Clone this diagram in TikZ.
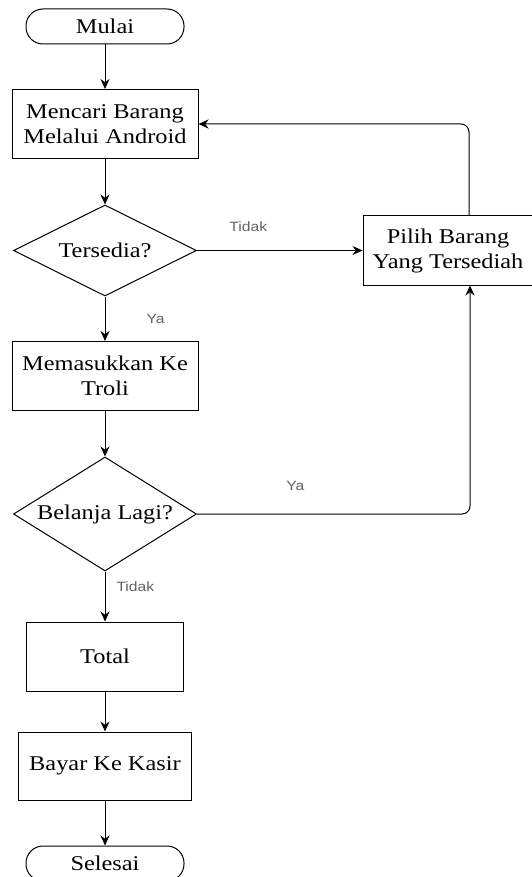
\documentclass[tikz,border=0pt]{standalone}
\usepackage{fontspec}
\setmainfont[FakeStretch=1.16]{Liberation Serif}
\newfontfamily\lblfont[FakeStretch=1.16]{Liberation Sans}
\usetikzlibrary{positioning, arrows.meta, shapes.geometric}

\begin{document}
\begin{tikzpicture}
    [
        on grid,
        x=1pt, y=1pt,
        font=\fontsize{21}{25}\selectfont,
        terminal/.style={draw, rectangle, rounded corners=17pt, minimum width=158pt, minimum height=35pt, line width=1pt},
        block/.style={draw, rectangle, align=center, minimum height=69pt, line width=1pt},
        decision/.style={draw, diamond, minimum width=183pt, line width=1pt},
        lbl/.style={font=\lblfont\fontsize{13.5}{16}\selectfont, text=black!62, inner sep=0pt},
        line/.style={-{Stealth[length=10pt, width=9pt]}, line width=1pt}
    ]
        \useasboundingbox (0,0) rectangle (531,-877);
        % =========================================================================
        % NODES
        % =========================================================================
        % --- Main column ---
        \node [terminal] (mulai) at (105,-26.5) {Mulai};
        \node [block, minimum width=186pt, below=97.5pt of mulai] (mencari) {Mencari Barang\\Melalui Android};
        \node [decision, minimum height=91pt, below=126.5pt of mencari, label=center:{Tersedia?}] (tersedia) {};
        \node [block, minimum width=186pt, below=125.5pt of tersedia] (troli) {Memasukkan Ke\\Troli};
        \node [decision, minimum height=114pt, below=138pt of troli, label=center:{Belanja Lagi?}] (belanja) {};
        \node [block, minimum width=157pt, below=142.5pt of belanja] (total) {Total};
        \node [block, minimum width=173pt, minimum height=68pt, below=109.5pt of total] (bayar) {Bayar Ke Kasir};
        \node [terminal, below=97.5pt of bayar] (selesai) {Selesai};
        % --- Right column ---
        \node [block, minimum width=170pt, right=343pt of tersedia] (pilih) {Pilih Barang\\Yang Tersediah};
        \coordinate [right=364pt of mencari] (blank1);
        \coordinate [right=365pt of belanja] (blank2);

        % =========================================================================
        % PATHS
        % =========================================================================
        % --- VERTICAL ---
        \draw [line] (mulai) -- (mencari);
        \draw [line] (mencari) -- (tersedia);
        \draw [line] (tersedia) -- node [lbl, right=41pt] {Ya} (troli);
        \draw [line] (troli) -- (belanja);
        \draw [line] (belanja) -- node [lbl, pos=0.3, right=11pt] {Tidak} (total);
        \draw [line] (total) -- (bayar);
        \draw [line] (bayar) -- (selesai);
        % --- HORIZONTAL ---
        \draw [line] (tersedia.east) -- node [lbl, pos=0.31, above=18pt] {Tidak} (pilih.west);
        % --- LOOPS ---
        \draw [line, rounded corners=8pt] (pilih.north -| blank1) -- (blank1) -- (mencari.east);
        \draw [line, rounded corners=8pt] (belanja.east) -- node [lbl, pos=0.36, above=23pt] {Ya} (blank2) -- (pilih.south -| blank2);

    \end{tikzpicture}
\end{document}
